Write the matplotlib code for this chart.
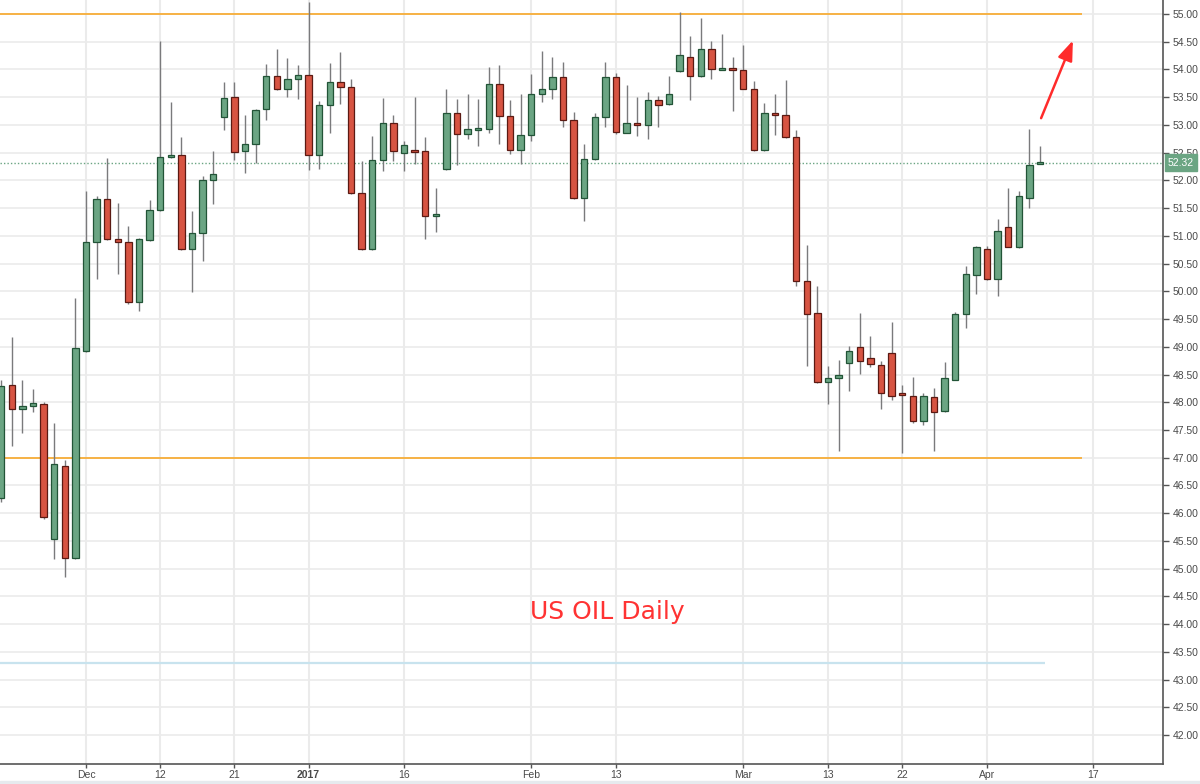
import numpy as np
import pandas as pd
import matplotlib
matplotlib.use("Agg")
import matplotlib.pyplot as plt
from matplotlib.transforms import blended_transform_factory
from matplotlib.patches import Rectangle

# ---------------- data ----------------
start_date = "2016-11-21"
calendar_end = "2017-04-21"
closed_days = ["2016-12-26", "2017-01-02"]

opens = [46.27, 48.31, 47.87, 47.93, 47.96, 45.53, 46.86, 45.20, 48.92, 50.88,
         51.66, 50.94, 50.89, 49.81, 50.93, 51.47, 52.42, 52.46, 50.76, 51.05,
         52.01, 53.14, 53.50, 52.52, 52.65, 53.28, 53.88, 53.64, 53.83, 53.89,
         52.46, 53.35, 53.77, 53.69, 51.77, 50.76, 52.36, 53.03, 52.50, 52.53,
         52.52, 51.36, 52.21, 53.21, 52.84, 52.91, 52.93, 53.73, 53.16, 52.55,
         52.81, 53.55, 53.64, 53.86, 53.09, 51.69, 52.38, 53.14, 53.86, 52.86,
         53.03, 52.99, 53.45, 53.37, 53.97, 54.23, 53.88, 54.36, 53.99, 54.03,
         53.98, 53.65, 52.55, 53.21, 53.18, 52.78, 50.18, 49.60, 48.36, 48.43,
         48.71, 49.00, 48.79, 48.68, 48.88, 48.15, 48.11, 47.66, 48.09, 47.85,
         48.41, 49.59, 50.29, 50.76, 50.22, 51.16, 50.79, 51.69, 52.30]
highs = [48.40, 49.18, 48.40, 48.24, 48.01, 47.62, 46.96, 49.88, 51.80, 51.72,
         52.40, 51.60, 51.18, 50.96, 51.65, 54.51, 53.41, 52.78, 51.45, 52.07,
         52.53, 53.78, 53.78, 53.18, 53.28, 54.10, 54.37, 54.20, 54.08, 55.22,
         53.43, 54.12, 54.32, 53.83, 52.34, 52.79, 53.49, 53.17, 52.71, 53.51,
         52.78, 51.86, 53.65, 53.46, 53.55, 53.47, 54.05, 54.08, 53.45, 53.55,
         53.92, 54.33, 54.22, 54.13, 53.23, 52.66, 53.22, 54.13, 53.94, 53.71,
         53.50, 53.59, 53.52, 53.88, 55.03, 54.61, 54.93, 54.51, 54.63, 54.22,
         54.44, 53.79, 53.39, 53.55, 53.80, 52.91, 50.83, 50.10, 48.66, 48.76,
         49.01, 49.60, 49.19, 48.74, 49.45, 48.31, 48.46, 48.16, 48.25, 48.73,
         49.62, 50.46, 50.81, 50.82, 51.30, 51.87, 51.81, 52.93, 52.61]
lows = [46.20, 47.21, 47.45, 47.83, 45.90, 45.17, 44.85, 45.18, 48.90, 50.22,
        50.92, 50.32, 49.77, 49.64, 50.91, 51.45, 52.41, 50.74, 49.99, 50.55,
        51.57, 52.90, 52.37, 52.14, 52.31, 53.09, 53.62, 53.51, 53.46, 52.19,
        52.21, 52.85, 53.37, 51.75, 50.74, 50.74, 52.17, 52.35, 52.17, 52.29,
        50.95, 51.07, 52.19, 52.28, 52.74, 52.61, 52.86, 52.65, 52.47, 52.30,
        52.70, 53.41, 53.46, 52.97, 51.67, 51.27, 52.36, 52.96, 52.84, 52.85,
        52.79, 52.74, 52.96, 53.36, 53.95, 53.45, 53.87, 53.82, 53.98, 53.25,
        53.64, 52.52, 52.53, 52.82, 52.76, 50.10, 48.65, 48.35, 47.96, 47.13,
        48.21, 48.51, 48.64, 47.87, 48.04, 47.09, 47.63, 47.59, 47.13, 47.83,
        48.40, 49.33, 49.96, 50.20, 49.92, 50.79, 50.78, 51.50, 52.30]
closes = [48.30, 47.87, 47.93, 47.98, 45.93, 46.88, 45.20, 48.97, 50.89, 51.67,
          50.94, 50.89, 49.81, 50.94, 51.47, 52.42, 52.46, 50.76, 51.05, 52.01,
          52.11, 53.49, 52.51, 52.65, 53.26, 53.88, 53.65, 53.82, 53.89, 52.46,
          53.35, 53.77, 53.69, 51.77, 50.76, 52.36, 53.03, 52.52, 52.64, 52.51,
          51.36, 51.39, 53.21, 52.84, 52.93, 52.95, 53.73, 53.16, 52.54, 52.81,
          53.55, 53.64, 53.86, 53.09, 51.69, 52.38, 53.14, 53.86, 52.87, 53.03,
          52.99, 53.45, 53.36, 53.55, 54.25, 53.88, 54.36, 54.00, 54.03, 53.99,
          53.65, 52.54, 53.21, 53.17, 52.78, 50.18, 49.59, 48.36, 48.43, 48.49,
          48.92, 48.74, 48.69, 48.16, 48.11, 48.13, 47.66, 48.11, 47.82, 48.43,
          49.59, 50.32, 50.79, 50.22, 51.09, 50.80, 51.71, 52.28, 52.32]

tick_dates = ["2016-12-01", "2016-12-12", "2016-12-21", "2017-01-03", "2017-01-16",
              "2017-02-01", "2017-02-13", "2017-03-01", "2017-03-13", "2017-03-22",
              "2017-04-03", "2017-04-17"]
tick_labels = ["Dec", "12", "21", "2017", "16", "Feb", "13", "Mar", "13", "22", "Apr", "17"]

last_price = 52.32
resistance_level = 55.00
support_level = 47.00
lower_level = 43.30
title_text = "US OIL Daily"

# ---------------- styling ----------------
UP_FILL, UP_EDGE = "#6ba583", "#225437"
DN_FILL, DN_EDGE = "#d75442", "#5b1a13"
WICK = "#7a7a7c"
GRID = "#ebebeb"
AXIS = "#555555"
TXT = "#4a4a4a"

cal = pd.bdate_range(start_date, calendar_end)
cal = cal[~cal.isin(pd.to_datetime(closed_days))]
date_index = {d: i for i, d in enumerate(cal)}
tick_pos = [date_index[pd.Timestamp(d)] for d in tick_dates]

o = np.array(opens); h = np.array(highs); l = np.array(lows); c = np.array(closes)
x = np.arange(len(o))
up = c >= o

fig = plt.figure(figsize=(12, 7.84), dpi=100)
fig.patch.set_facecolor("white")
ax = fig.add_axes([0.0, 20 / 784, 1163 / 1200, 764 / 784])
ax.set_facecolor("white")

ax.set_xlim(-0.11, 109.6)
ax.set_ylim(41.48, 55.25)

# grid
yticks = np.arange(42.0, 55.01, 0.5)
for yv in yticks:
    ax.axhline(yv, color=GRID, lw=1.2, zorder=0)
for tp in tick_pos:
    ax.axvline(tp, color=GRID, lw=1.5, zorder=0)

# levels
ax.hlines(resistance_level, -1, 102, color="#f8a829", lw=1.2, zorder=1)
ax.hlines(support_level, -1, 102, color="#f8a829", lw=1.2, zorder=1)
ax.hlines(lower_level, -1, 98.5, color="#c8e3ee", lw=1.6, zorder=1)
ax.axhline(last_price, color=UP_FILL, lw=1.0, ls=(0, (1, 1.5)), zorder=1)

# candles
ax.vlines(x, l, h, color=WICK, lw=1.0, zorder=2)
body_h = np.maximum(np.abs(c - o), 0.03)
body_b = np.minimum(o, c)
ax.bar(x[up], body_h[up], bottom=body_b[up], width=0.6,
       color=UP_FILL, edgecolor=UP_EDGE, linewidth=0.9, zorder=3)
ax.bar(x[~up], body_h[~up], bottom=body_b[~up], width=0.6,
       color=DN_FILL, edgecolor=DN_EDGE, linewidth=0.9, zorder=3)

# annotation text and arrow
ax.text(57.2, 44.22, title_text, color="#ff3333", fontsize=18,
        ha="center", va="center", family="DejaVu Sans", zorder=5)
ax.annotate("", xy=(101.1, 54.52), xytext=(98.1, 53.12),
            arrowprops=dict(arrowstyle="-|>,head_length=1.2,head_width=0.45",
                            color="#ff2b2b", lw=1.8, shrinkA=0, shrinkB=0),
            zorder=5)

# axes styling
for s in ["left", "top"]:
    ax.spines[s].set_visible(False)
for s in ["right", "bottom"]:
    ax.spines[s].set_color(AXIS)
    ax.spines[s].set_linewidth(1.2)

ax.yaxis.tick_right()
ax.set_yticks(yticks)
ax.set_yticklabels([f"{v:.2f}" for v in yticks])
ax.tick_params(axis="y", direction="out", length=4, width=1, color=AXIS,
               labelsize=7.5, labelcolor=TXT, pad=3)
ax.set_xticks(tick_pos)
ax.set_xticklabels(tick_labels)
ax.tick_params(axis="x", direction="out", length=3, width=1, color=AXIS,
               labelsize=7.5, labelcolor=TXT, pad=1)
for lab in ax.get_xticklabels():
    lab.set_family("Liberation Sans")
    if lab.get_text() == "2017":
        lab.set_fontweight("bold")
for lab in ax.get_yticklabels():
    lab.set_family("Liberation Sans")

# last price tag
tr = blended_transform_factory(ax.transAxes, ax.transData)
ax.text(1.004, last_price, f"{last_price:.2f}", transform=tr, color="white",
        fontsize=7.5, family="Liberation Sans", ha="left", va="center",
        bbox=dict(boxstyle="square,pad=0.3", fc=UP_FILL, ec=UP_FILL), zorder=6,
        clip_on=False)

# bottom strip
fig.patches.append(Rectangle((0, 0), 1, 3 / 784, transform=fig.transFigure,
                             color="#e6eaee", zorder=0))

fig.savefig("out.png", dpi=100)
